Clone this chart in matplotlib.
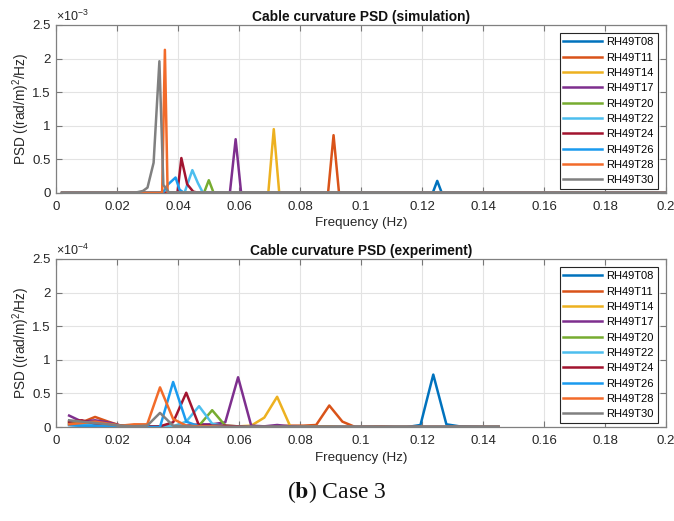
import matplotlib.pyplot as plt
from matplotlib.ticker import FuncFormatter

plt.rcParams['font.family'] = ['Liberation Sans', 'DejaVu Sans']
plt.rcParams['mathtext.fontset'] = 'custom'
plt.rcParams['mathtext.rm'] = 'Liberation Sans'
plt.rcParams['mathtext.it'] = 'Liberation Sans'
plt.rcParams['mathtext.bf'] = 'Liberation Sans:bold'

labels = ['RH49T08', 'RH49T11', 'RH49T14', 'RH49T17', 'RH49T20',
          'RH49T22', 'RH49T24', 'RH49T26', 'RH49T28', 'RH49T30']
colors = ['#0072BD', '#D95319', '#EDB120', '#7E2F8E', '#77AC30',
          '#4DBEEE', '#A2142F', '#1A9BEF', '#F26B2A', '#808080']

# simulation: frequency (Hz) and PSD in units of 1e-3
sim_f = [
    [0.002, 0.1235, 0.125, 0.1265, 0.2],
    [0.002, 0.0892, 0.0910, 0.0928, 0.2],
    [0.002, 0.0696, 0.0714, 0.0732, 0.2],
    [0.002, 0.0570, 0.0589, 0.0607, 0.2],
    [0.002, 0.0485, 0.0501, 0.0517, 0.2],
    [0.002, 0.0421, 0.0447, 0.0465, 0.0482, 0.2],
    [0.002, 0.0398, 0.0411, 0.0430, 0.0450, 0.047, 0.2],
    [0.002, 0.0350, 0.0368, 0.0392, 0.0405, 0.0420, 0.2],
    [0.002, 0.0348, 0.0357, 0.0366, 0.2],
    [0.002, 0.0260, 0.0285, 0.0300, 0.0320, 0.0339, 0.0352, 0.0370, 0.2],
]
sim_v = [
    [0, 0, 0.18, 0, 0],
    [0, 0, 0.86, 0, 0],
    [0, 0, 0.95, 0, 0],
    [0, 0, 0.80, 0, 0],
    [0, 0, 0.19, 0, 0],
    [0, 0, 0.34, 0.15, 0, 0],
    [0, 0, 0.52, 0.13, 0.02, 0, 0],
    [0, 0, 0.13, 0.23, 0.05, 0, 0],
    [0, 0, 2.13, 0, 0],
    [0, 0.005, 0.03, 0.08, 0.45, 1.96, 0.12, 0.01, 0],
]

# experiment: frequency (Hz) and PSD in units of 1e-4
exp_f = [0.0043, 0.0085, 0.0128, 0.0171, 0.0213, 0.0256, 0.0299, 0.0341,
         0.0384, 0.0427, 0.0469, 0.0512, 0.0555, 0.0597, 0.0640, 0.0683,
         0.0725, 0.0768, 0.0811, 0.0853, 0.0896, 0.0939, 0.0981, 0.1024,
         0.1067, 0.1109, 0.1152, 0.1195, 0.1237, 0.1280, 0.1323, 0.1365,
         0.1408, 0.1451]
exp_v = [
    [0.03, 0.02, 0.02, 0.01, 0.01, 0.0, 0.0, 0.0, 0.0, 0.0, 0.0, 0.0, 0.0, 0.0, 0.0, 0.0, 0.0,
     0.0, 0.0, 0.0, 0.0, 0.0, 0.0, 0.0, 0.0, 0.0, 0.0, 0.03, 0.78, 0.04, 0.01, 0.005, 0.0, 0.0],
    [0.06, 0.07, 0.15, 0.08, 0.02, 0.01, 0.01, 0.01, 0.01, 0.01, 0.01, 0.01, 0.01, 0.01, 0.01, 0.01, 0.01,
     0.02, 0.02, 0.03, 0.32, 0.08, 0.0, 0.005, 0.01, 0.0, 0.0, 0.0, 0.0, 0.0, 0.0, 0.0, 0.0, 0.0],
    [0.05, 0.06, 0.05, 0.03, 0.01, 0.01, 0.01, 0.01, 0.01, 0.01, 0.01, 0.01, 0.01, 0.01, 0.02, 0.14, 0.45,
     0.01, 0.01, 0.01, 0.01, 0.0, 0.0, 0.0, 0.0, 0.0, 0.0, 0.0, 0.0, 0.0, 0.0, 0.0, 0.0, 0.0],
    [0.17, 0.08, 0.10, 0.07, 0.02, 0.01, 0.01, 0.01, 0.01, 0.02, 0.04, 0.04, 0.07, 0.74, 0.02, 0.01, 0.03,
     0.01, 0.0, 0.0, 0.0, 0.0, 0.0, 0.0, 0.0, 0.0, 0.0, 0.0, 0.0, 0.0, 0.0, 0.0, 0.0, 0.0],
    [0.08, 0.05, 0.06, 0.04, 0.02, 0.01, 0.01, 0.01, 0.01, 0.01, 0.02, 0.25, 0.02, 0.01, 0.0, 0.0, 0.0,
     0.0, 0.0, 0.0, 0.0, 0.0, 0.0, 0.0, 0.0, 0.0, 0.0, 0.0, 0.0, 0.0, 0.0, 0.0, 0.0, 0.0],
    [0.05, 0.03, 0.04, 0.03, 0.01, 0.01, 0.01, 0.01, 0.01, 0.08, 0.31, 0.05, 0.01, 0.0, 0.0, 0.0, 0.0,
     0.0, 0.0, 0.0, 0.0, 0.0, 0.0, 0.0, 0.0, 0.0, 0.0, 0.0, 0.0, 0.0, 0.0, 0.0, 0.0, 0.0],
    [0.08, 0.10, 0.05, 0.04, 0.02, 0.01, 0.01, 0.01, 0.07, 0.51, 0.02, 0.02, 0.02, 0.01, 0.0, 0.0, 0.0,
     0.0, 0.0, 0.0, 0.0, 0.0, 0.0, 0.0, 0.0, 0.0, 0.0, 0.0, 0.0, 0.0, 0.0, 0.0, 0.0, 0.0],
    [0.03, 0.02, 0.02, 0.01, 0.01, 0.01, 0.0, 0.0, 0.67, 0.08, 0.01, 0.01, 0.0, 0.0, 0.0, 0.0, 0.0,
     0.0, 0.0, 0.0, 0.0, 0.0, 0.0, 0.0, 0.0, 0.0, 0.0, 0.0, 0.0, 0.0, 0.0, 0.0, 0.0, 0.0],
    [0.04, 0.06, 0.08, 0.05, 0.02, 0.04, 0.04, 0.59, 0.12, 0.02, 0.01, 0.01, 0.0, 0.0, 0.0, 0.0, 0.0,
     0.0, 0.0, 0.0, 0.0, 0.0, 0.0, 0.0, 0.0, 0.0, 0.0, 0.0, 0.0, 0.0, 0.0, 0.0, 0.0, 0.0],
    [0.10, 0.08, 0.06, 0.04, 0.02, 0.01, 0.02, 0.21, 0.02, 0.01, 0.0, 0.0, 0.0, 0.0, 0.0, 0.0, 0.0,
     0.0, 0.0, 0.0, 0.0, 0.0, 0.0, 0.0, 0.0, 0.0, 0.0, 0.0, 0.0, 0.0, 0.0, 0.0, 0.0, 0.0],
]

xticks = [0, 0.02, 0.04, 0.06, 0.08, 0.1, 0.12, 0.14, 0.16, 0.18, 0.2]
yticks = [0, 0.5, 1, 1.5, 2, 2.5]

fig = plt.figure(figsize=(6.74, 5.21), dpi=100)
ax1 = fig.add_axes([0.0831, 0.6296, 0.905, 0.3225])
ax2 = fig.add_axes([0.0831, 0.1804, 0.905, 0.3225])


def style(ax, title, exponent):
    ax.set_xlim(0, 0.2)
    ax.set_ylim(0, 2.5)
    ax.set_xticks(xticks)
    ax.set_yticks(yticks)
    ax.xaxis.set_major_formatter(FuncFormatter(lambda v, p: f"{v:g}"))
    ax.yaxis.set_major_formatter(FuncFormatter(lambda v, p: f"{v:g}"))
    ax.tick_params(direction='in', length=4, width=0.8, colors='#777777',
                   labelcolor='#262626', labelsize=9.5, top=True, right=True)
    ax.tick_params(axis='x', pad=6)
    ax.tick_params(axis='y', pad=4)
    for s in ax.spines.values():
        s.set_color('#808080')
        s.set_linewidth(0.9)
    ax.grid(True, color='#e3e3e3', linewidth=0.8)
    ax.set_axisbelow(True)
    ax.set_title(title, fontsize=9.9, fontweight='bold', pad=3, color='#111111')
    ax.set_xlabel('Frequency (Hz)', fontsize=9.6, color='#262626', labelpad=3)
    ax.set_ylabel('PSD ((rad/m)$^2$/Hz)', fontsize=9.8, color='#262626')
    ax.yaxis.set_label_coords(-0.04, 0.5)
    ax.text(0.0, 1.005, r'$\times$10$^{' + exponent + '}$', transform=ax.transAxes,
            fontsize=9, color='#262626', ha='left', va='bottom')
    leg = ax.legend(loc='upper right', fontsize=8, handlelength=3.5,
                    handletextpad=0.35, labelspacing=0.48, borderpad=0.35,
                    borderaxespad=0.75, fancybox=False, framealpha=1,
                    edgecolor='#262626')
    leg.get_frame().set_linewidth(0.8)


for f, v, c, lab in zip(sim_f, sim_v, colors, labels):
    ax1.plot(f, v, color=c, linewidth=1.8, label=lab)
style(ax1, 'Cable curvature PSD (simulation)', '-3')

for v, c, lab in zip(exp_v, colors, labels):
    ax2.plot(exp_f, v, color=c, linewidth=1.8, label=lab)
style(ax2, 'Cable curvature PSD (experiment)', '-4')

plt.rcParams['mathtext.fontset'] = 'stix'
fig.text(0.5, 0.055, r'($\mathbf{b}$) Case 3', fontsize=17, family='Liberation Serif',
         ha='center', va='center', color='#111111')

fig.savefig('out.png', dpi=100)
